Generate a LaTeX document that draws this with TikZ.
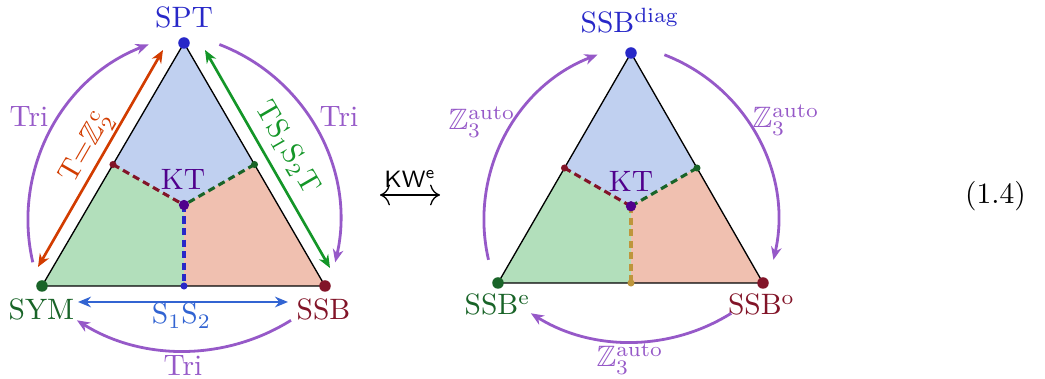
\documentclass[tikz,border=0pt]{standalone}
\usepackage{amssymb}
\usetikzlibrary{arrows.meta}
\definecolor{cBlueF}{HTML}{C0D0F0}
\definecolor{cGreenF}{HTML}{B2DFBB}
\definecolor{cRedF}{HTML}{F0C0B0}
\definecolor{cSPT}{HTML}{2828C8}
\definecolor{cSYM}{HTML}{196428}
\definecolor{cSSB}{HTML}{821428}
\definecolor{cKT}{HTML}{50008C}
\definecolor{cTri}{HTML}{9659C8}
\definecolor{cRed}{HTML}{D23C00}
\definecolor{cGrn}{HTML}{149628}
\definecolor{cS}{HTML}{3264D2}
\definecolor{cGold}{HTML}{BE963C}
\begin{document}
\begin{tikzpicture}[x=0.339pt,y=-0.339pt,
  edge/.style={line width=0.45pt, black},
  dsh/.style={line width=1.05pt, dash pattern=on 2.4pt off 1.5pt},
  tipst/.style={-{Stealth[length=4.4pt,width=3.6pt]}},
  rot/.style={line width=0.95pt, cTri, tipst},
  dblarr/.style={line width=0.9pt, {Stealth[length=4.4pt,width=3.6pt]}-{Stealth[length=4.4pt,width=3.6pt]}},
  lbl/.style={anchor=base, inner sep=0pt},
  vdot/.style={circle, fill, inner sep=0pt, minimum size=3.9pt},
  mdot/.style={circle, fill, inner sep=0pt, minimum size=2.4pt},
  kdot/.style={circle, fill, inner sep=0pt, minimum size=3.5pt}]
\useasboundingbox (0,0) rectangle (1045,379);

% ---------------- left triangle ----------------
\coordinate (A1) at (184,43);
\coordinate (B1) at (42,286);
\coordinate (C1) at (325,286);
\coordinate (O1) at (184,205);
\coordinate (mL1) at (113,164.5);
\coordinate (mR1) at (254.5,164.5);
\coordinate (mB1) at (184,286);
\fill[cBlueF] (A1)--(mL1)--(O1)--(mR1)--cycle;
\fill[cGreenF] (B1)--(mL1)--(O1)--(mB1)--cycle;
\fill[cRedF] (C1)--(mR1)--(O1)--(mB1)--cycle;
\draw[edge] (A1)--(B1)--(C1)--cycle;
\draw[dsh, cSSB] (mL1)--(O1);
\draw[dsh, cSYM] (mR1)--(O1);
\draw[dsh, cSPT] (O1)--(mB1);
\node[vdot, cSPT] (dA1) at (A1) {};
\node[vdot, cSYM] (dB1) at (B1) {};
\node[vdot, cSSB] (dC1) at (C1) {};
\node[mdot, cSSB] (dmL1) at (mL1) {};
\node[mdot, cSYM] (dmR1) at (mR1) {};
\node[mdot, cSPT] (dmB1) at (mB1) {};
\node[kdot, cKT] (dO1) at (O1) {};

\node[lbl, cSPT] (tSPT) at (184,28) {SPT};
\node[lbl, cSYM] (tSYM) at (41.5,320) {SYM};
\node[lbl, cSSB] (tSSB) at (323.5,320) {SSB};
\node[lbl, cKT] (tKT1) at (183,190) {KT};

% side arrows
\coordinate (r1) at (38,267);
\coordinate (r2) at (163,50);
\draw[dblarr, cRed] (r1)--(r2);
\node[cRed, rotate=60, inner sep=0pt] (tT) at (87,148) {$\mathrm{T}{=}\mathbb{Z}_2^{\mathrm{c}}$};
\coordinate (g1) at (205,50);
\coordinate (g2) at (330,268);
\draw[dblarr, cGrn] (g1)--(g2);
\node[cGrn, rotate=-60, inner sep=0pt] (tTS) at (287,148) {$\mathrm{TS_1S_2T}$};
\coordinate (s1) at (78,302);
\coordinate (s2) at (288,302);
\draw[dblarr, cS] (s1)--(s2);
\node[lbl, cS] (tS) at (181.5,324) {$\mathrm{S_1S_2}$};

% Tri arcs
\coordinate (la1) at (32.8,262.3);
\draw[rot] (la1) arc[start angle=167, end angle=249, radius=188];
\coordinate (ra1) at (219.4,44.5);
\draw[rot] (ra1) arc[start angle=-69, end angle=13, radius=188];
\coordinate (ba1) at (291,320.3);
\draw[rot] (ba1) arc[start angle=58, end angle=122, radius=202];
\node[lbl, cTri] (tTriL) at (29,127) {Tri};
\node[lbl, cTri] (tTriR) at (339,127) {Tri};
\node[lbl, cTri] (tTriB) at (183,376) {Tri};

% ---------------- KW arrow ----------------
\coordinate (k1) at (380,195);
\coordinate (k2) at (440,195);
\draw[line width=0.45pt, {To[scale=1.3]}-{To[scale=1.3]}] (k1)--(k2);
\node[lbl] (tKW) at (410,188) {\footnotesize$\mathsf{KW}^{\mathsf{e}}$};

% ---------------- right triangle ----------------
\coordinate (A2) at (631,53);
\coordinate (B2) at (498,283);
\coordinate (C2) at (763,283);
\coordinate (O2) at (631,206.3);
\coordinate (mL2) at (564.5,168);
\coordinate (mR2) at (697,168);
\coordinate (mB2) at (631,283);
\fill[cBlueF] (A2)--(mL2)--(O2)--(mR2)--cycle;
\fill[cGreenF] (B2)--(mL2)--(O2)--(mB2)--cycle;
\fill[cRedF] (C2)--(mR2)--(O2)--(mB2)--cycle;
\draw[edge] (A2)--(B2)--(C2)--cycle;
\draw[dsh, cSSB] (mL2)--(O2);
\draw[dsh, cSYM] (mR2)--(O2);
\draw[dsh, cGold] (O2)--(mB2);
\node[vdot, cSPT] (dA2) at (A2) {};
\node[vdot, cSYM] (dB2) at (B2) {};
\node[vdot, cSSB] (dC2) at (C2) {};
\node[mdot, cSSB] (dmL2) at (mL2) {};
\node[mdot, cSYM] (dmR2) at (mR2) {};
\node[mdot, cGold] (dmB2) at (mB2) {};
\node[kdot, cKT] (dO2) at (O2) {};

\node[lbl, cSPT] (tDiag) at (630,33) {SSB$^{\mathrm{diag}}$};
\node[lbl, cSYM] (tSSBe) at (497.5,315) {SSB$^{\mathrm{e}}$};
\node[lbl, cSSB] (tSSBo) at (761.5,315) {SSB$^{\mathrm{o}}$};
\node[lbl, cKT] (tKT2) at (631,192) {KT};

\coordinate (la2) at (488.5,259.8);
\draw[rot] (la2) arc[start angle=167, end angle=249, radius=177];
\coordinate (ra2) at (664.4,54.8);
\draw[rot] (ra2) arc[start angle=-69, end angle=13, radius=177];
\coordinate (ba2) at (731.2,313.3);
\draw[rot] (ba2) arc[start angle=58, end angle=122, radius=189];
\node[lbl, cTri] (tZL) at (482,130) {$\mathbb{Z}_3^{\mathrm{auto}}$};
\node[lbl, cTri] (tZR) at (786,128) {$\mathbb{Z}_3^{\mathrm{auto}}$};
\node[lbl, cTri] (tZB) at (630,367) {$\mathbb{Z}_3^{\mathrm{auto}}$};

% equation number
\node[lbl] (eqn) at (995.5,204) {(1.4)};
\end{tikzpicture}
\end{document}
